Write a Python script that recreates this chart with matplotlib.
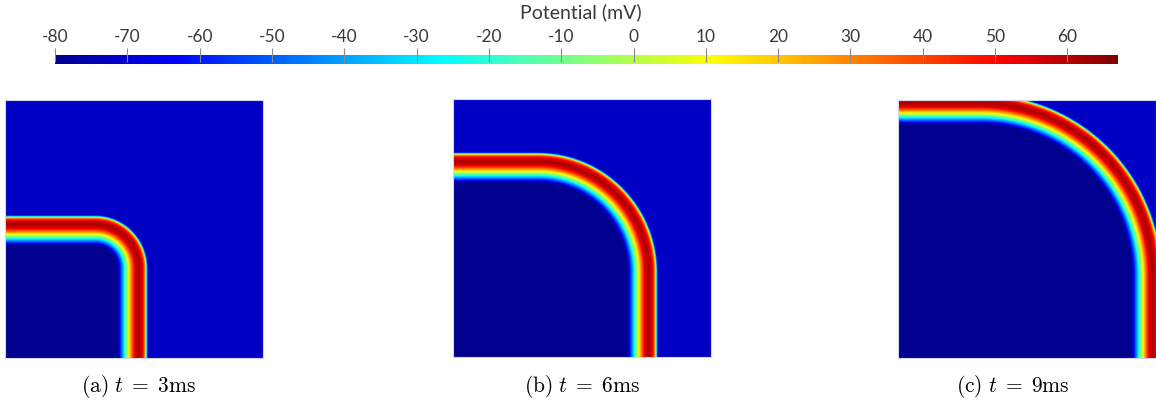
import numpy as np
import matplotlib
matplotlib.use("Agg")
import matplotlib.pyplot as plt
from matplotlib.colors import LinearSegmentedColormap

# ---------------- data ----------------
times_ms = [3, 6, 9]
panel_labels = ["(a)", "(b)", "(c)"]
front_pos = [0.55, 0.79, 1.02]        # straight wavefront position (fraction of domain)
corner_radius = [0.20, 0.46, 0.70]    # radius of rounded wavefront corner (fraction)
# action-potential profile vs distance behind the front (panel pixels)
profile_s = [-3, -1, 0, 1, 2, 4, 8, 12, 15, 18, 20, 22, 24, 27, 30, 60]
profile_mV = [-72, -72, -40, 0, 30, 52, 62, 55, 35, 12, -5, -20, -38, -62, -84, -84]
v_min, v_max = -80, 67
cbar_ticks = list(range(-80, 61, 10))

# ParaView "Jet" colour map
jet_pos = [0.0, 0.111111, 0.365079, 0.492063, 0.619048, 0.888889, 1.0]
jet_col = [(0, 0, 0.5625), (0, 0, 1), (0, 1, 1), (0.5, 1, 0.5), (1, 1, 0), (1, 0, 0), (0.5, 0, 0)]
cmap = LinearSegmentedColormap.from_list("pv_jet", list(zip(jet_pos, jet_col)), N=512)

plt.rcParams["mathtext.fontset"] = "cm"

W, H = 1156, 410
fig = plt.figure(figsize=(W / 100, H / 100), dpi=100)

panel_left_px = [5, 453, 898]
panel_top_px = [101, 100, 101]
panel_px = 258
caption_cx = [138, 582, 1013]

N = 400
g = (np.arange(N) + 0.5) / N
X, Y = np.meshgrid(g, g)

im = None
for i in range(3):
    ax = fig.add_axes([panel_left_px[i] / W, (H - panel_top_px[i] - panel_px) / H,
                       panel_px / W, panel_px / H])
    c0 = front_pos[i] - corner_radius[i]
    dx = np.maximum(X - c0, 0)
    dy = np.maximum(Y - c0, 0)
    dist = np.sqrt(dx ** 2 + dy ** 2)
    s = (corner_radius[i] - dist) * panel_px
    V = np.interp(s, profile_s, profile_mV)
    im = ax.imshow(V, origin="lower", extent=[0, 1, 0, 1], cmap=cmap,
                   vmin=v_min, vmax=v_max, interpolation="bilinear", aspect="auto")
    ax.set_xticks([])
    ax.set_yticks([])
    for sp in ax.spines.values():
        sp.set_color("#d4d4ec")
        sp.set_linewidth(0.8)
    fig.text(caption_cx[i] / W, (H - 387) / H,
             r"$\mathrm{%s}\ t\;=\;%d\mathrm{ms}$" % (panel_labels[i], times_ms[i]),
             ha="center", va="center", fontsize=15.5)

# colour bar
cax = fig.add_axes([55 / W, (H - 65) / H, (1118 - 55) / W, 9 / H])
cb = fig.colorbar(im, cax=cax, orientation="horizontal", ticks=cbar_ticks)
cb.outline.set_visible(False)
cax.xaxis.set_ticks_position("top")
cax.xaxis.set_label_position("top")
cax.tick_params(axis="x", direction="inout", length=10, width=0.8, color="#8a8a8a",
                pad=3, labelsize=12.5, labelcolor="#3a3a3a")
cax.set_xticklabels([str(t) for t in cbar_ticks], family="Lato")
fig.text(581 / W, (H - 12) / H, "Potential (mV)", ha="center", va="center",
         fontsize=14, color="#3a3a3a", family="Lato")

fig.savefig("out.png", dpi=100)
